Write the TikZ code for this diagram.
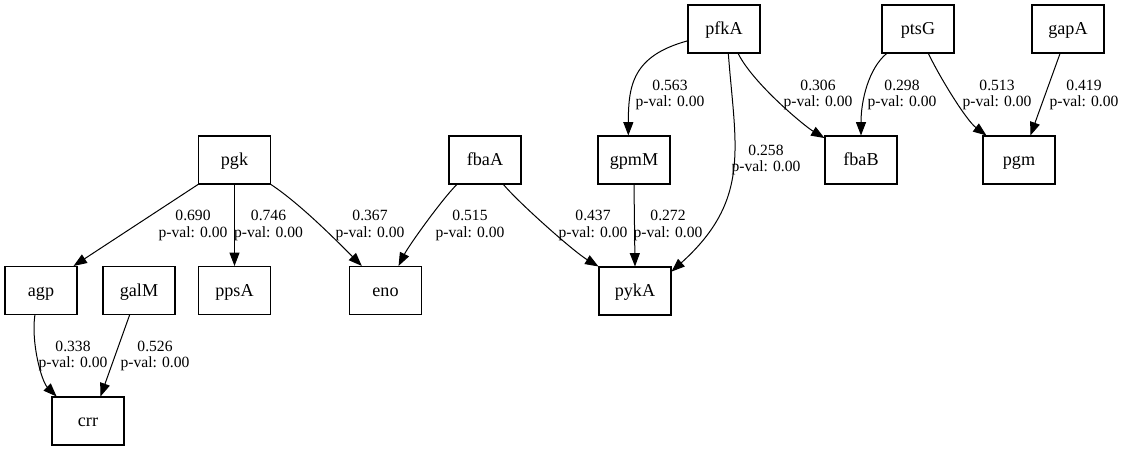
\documentclass[tikz,border=0pt]{standalone}
\usepackage{fontspec}
\setmainfont{Liberation Serif}
\usetikzlibrary{arrows.meta}

\begin{document}
\begin{tikzpicture}[x=0.75pt,y=-0.75pt,
	gene/.style={draw,line width=0.8pt,minimum width=54pt,minimum height=36pt,inner sep=0pt,
		text height=9.6pt,text depth=1pt,font=\fontsize{13.6}{15}\selectfont},
	wt/.style={align=center,inner sep=0pt,font=\fontsize{11.7}{12.6}\selectfont},
	arr/.style={-{Triangle[length=10pt,width=7.5pt]},line width=0.75pt}]

	\useasboundingbox (0,0) rectangle (1125,451);

	% genes
	\node[gene] (pfkA) at (724,29) {pfkA};
	\node[gene] (ptsG) at (918,29) {ptsG};
	\node[gene] (gapA) at (1068,29) {gapA};
	\node[gene] (pgk) at (234.5,160) {pgk};
	\node[gene] (fbaA) at (485,160) {fbaA};
	\node[gene] (gpmM) at (634,160) {gpmM};
	\node[gene] (fbaB) at (861,160) {fbaB};
	\node[gene] (pgm) at (1019,160) {pgm};
	\node[gene] (agp) at (41,290.5) {agp};
	\node[gene] (galM) at (139,290.5) {galM};
	\node[gene] (ppsA) at (234.5,290.5) {ppsA};
	\node[gene] (eno) at (385.5,290.5) {eno};
	\node[gene] (pykA) at (635,291) {pykA};
	\node[gene] (crr) at (88,421) {crr};

	% links
	\draw[arr] (pgk.south west) -- (agp.37);
	\draw[arr] (pgk.south) -- (ppsA.north);
	\draw[arr] (pgk.south east) .. controls +(30,20) and +(-25,-25) .. (eno.134);
	\draw[arr] (fbaA.221) .. controls +(-15,15) and +(10,-20) .. (eno.62);
	\draw[arr] (fbaA.-53) .. controls +(15,18) and +(-25,-15) .. (pykA.north west);
	\draw[arr] (gpmM.south) -- (pykA.north);
	\draw[arr] (pfkA.198) .. controls +(-55,15) and +(0,-50) .. (gpmM.103);
	\draw[arr] (pfkA.-80) .. controls +(7,93) and +(80,-72) .. (pykA.28);
	\draw[arr] (pfkA.-60) .. controls +(15,30) and +(-20,-12) .. (fbaB.149);
	\draw[arr] (ptsG.218) .. controls +(-18,15) and +(0,-35) .. (fbaB.north);
	\draw[arr] (ptsG.-67) .. controls +(12,25) and +(-20,-15) .. (pgm.143);
	\draw[arr] (gapA.252) -- (pgm.65);
	\draw[arr] (agp.256) .. controls +(-4,28) and +(-15,-15) .. (crr.142);
	\draw[arr] (galM.249) -- (crr.63);

	% weights
	\node[wt] (w1) at (193,225.5) {0.690\\p-val: 0.00};
	\node[wt] (w2) at (268.5,225.5) {0.746\\p-val: 0.00};
	\node[wt] (w3) at (370,225.5) {0.367\\p-val: 0.00};
	\node[wt] (w4) at (470,225.5) {0.515\\p-val: 0.00};
	\node[wt] (w5) at (593,225.5) {0.437\\p-val: 0.00};
	\node[wt] (w6) at (668,225.5) {0.272\\p-val: 0.00};
	\node[wt] (w7) at (670,95) {0.563\\p-val: 0.00};
	\node[wt] (w8) at (766,160) {0.258\\p-val: 0.00};
	\node[wt] (w9) at (818,95) {0.306\\p-val: 0.00};
	\node[wt] (w10) at (902,95) {0.298\\p-val: 0.00};
	\node[wt] (w11) at (997,95) {0.513\\p-val: 0.00};
	\node[wt] (w12) at (1084,95) {0.419\\p-val: 0.00};
	\node[wt] (w13) at (73,356) {0.338\\p-val: 0.00};
	\node[wt] (w14) at (155,356) {0.526\\p-val: 0.00};

\end{tikzpicture}
\end{document}
